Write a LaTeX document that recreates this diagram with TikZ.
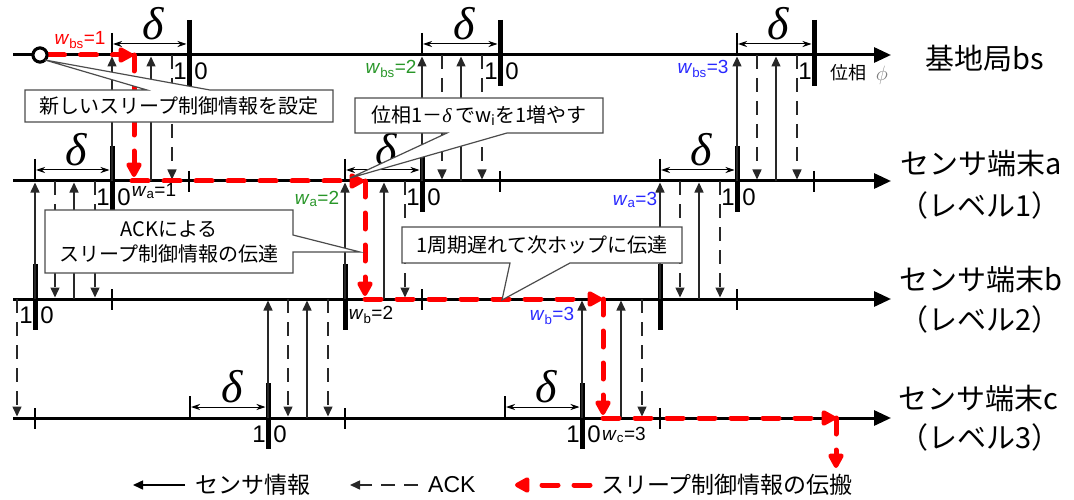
\documentclass[tikz,border=0pt]{standalone}
\usepackage{fontspec}
\setmainfont{Liberation Sans}
\newfontfamily\jp{Noto Sans CJK JP}
\newfontfamily\grk{Liberation Serif}
\usetikzlibrary{arrows.meta}
\definecolor{wgreen}{RGB}{40,150,40}
\definecolor{wblue}{RGB}{40,40,255}
\definecolor{linegray}{RGB}{40,40,40}
\begin{document}
\begin{tikzpicture}[x=1pt,y=-1pt,
  axis/.style={line width=3pt,-{Triangle[length=17pt,width=15pt]}},
  bar/.style={line width=5pt},
  stick/.style={line width=2.5pt},
  ttick/.style={line width=2pt},
  sens/.style={line width=1.5pt,draw=linegray,-{Triangle[length=10pt,width=9pt]}},
  ackl/.style={line width=1.5pt,draw=linegray,dash pattern=on 14pt off 9pt,-{Triangle[length=10pt,width=9pt]}},
  dim/.style={line width=1pt,{Stealth[length=9pt,width=6pt]}-{Stealth[length=9pt,width=6pt]}},
  redp/.style={draw=red,line width=5pt,dash pattern=on 16pt off 16pt,line cap=round,-{Triangle[length=17pt,width=17pt,fill=red,round]}},
  callout/.style={fill=white,draw=black!70,line width=1.2pt},
  ctext/.style={font=\jp\fontsize{20}{25}\selectfont,align=center,inner sep=0pt},
  num/.style={font=\fontsize{24}{24}\selectfont,inner sep=0pt},
  wl/.style={font=\fontsize{19}{19}\selectfont,inner sep=0pt},
  dl/.style={font=\grk\itshape\fontsize{46}{46}\selectfont,inner sep=0pt},
  rl/.style={font=\jp\fontsize{29}{32}\selectfont,inner sep=0pt},
  lg/.style={font=\jp\fontsize{23}{26}\selectfont,inner sep=0pt,anchor=west}]
\useasboundingbox (0,0) rectangle (1074,500);

% axes
\foreach \n/\y in {bs/55,a/181,b/299,c/418}{
  \coordinate (L\n) at (13,\y);
  \coordinate (R\n) at (891,\y);
  \draw[axis] (L\n) -- (R\n);
}

% thick period bars
\foreach \x/\y in {189/55,500/55,814/55,112/181,422/181,737/181,35/299,345/299,660/299,268/418,582/418}
  \draw[bar] (\x,\y-35) -- (\x,\y+31);

% short crossing ticks (parent boundaries)
\foreach \x/\y in {189/181,500/181,814/181,112/299,422/299,737/299,35/418,345/418,660/418}
  \draw[stick] (\x,\y-10) -- (\x,\y+11);

% delta windows
\foreach \s/\e/\y [count=\k] in {112/189/55,422/500/55,737/814/55,35/112/181,345/422/181,660/737/181,190/268/418,505/582/418}{
  \draw[ttick] (\s,\y-22) -- (\s,\y);
  \draw[dim] (\s+1,\y-11) -- (\e-2.5,\y-11);
  \node[dl] (d\k) at ({(\s+\e)/2+3},\y-31) {δ};
}

% sensor info (up) and ACK (down dashed)
\foreach \s/\P/\C/\skp in {112/55/181/1,422/55/181/0,737/55/181/0,35/181/299/0,345/181/299/1,660/181/299/0,268/299/418/0,582/299/418/1}{
  \draw[sens] (\s,\C) -- (\s,\P+1.5);
  \draw[sens] (\s+39,\C) -- (\s+39,\P+1.5);
  \ifnum\skp=0 \draw[ackl] (\s+20,\P) -- (\s+20,\C-1.5);\fi
  \draw[ackl] (\s+60,\P) -- (\s+60,\C-1.5);
}
\draw[ackl] (17,299) -- (17,416.5);

% sleep-control propagation path
\node[circle,draw,line width=3pt,fill=white,minimum size=14pt,inner sep=0pt] (org) at (40,55) {};
\draw[redp] (org.east) -- (133,55);
\draw[redp] (134,55) -- (134,177);
\draw[redp] (132,181) -- (364,181);
\draw[redp] (365,181) -- (365,296);
\draw[redp] (365,299) -- (602,299);
\draw[redp] (603,299) -- (603,415);
\draw[redp] (603,418) -- (836,418);
\draw[redp] (836,418) -- (836,468);
\node[circle,draw,line width=3pt,fill=white,minimum size=14pt,inner sep=0pt] (org2) at (40,55) {};

% callouts
\draw[callout] (25,90) -- (147,90) -- (45,60) -- (210,90) -- (333,90) -- (333,122) -- (25,122) -- cycle;
\node[ctext] (c1) at (179,106) {新しいスリープ制御情報を設定};
\draw[callout] (355,98) -- (603,98) -- (603,133) -- (507,133) -- (350,178) -- (447,133) -- (355,133) -- cycle;
\node[ctext] (c2) at (479,115.5) {位相1－{\grk\itshape δ}\,でw\textsubscript{i}を1増やす};
\draw[callout] (45,210) -- (293,210) -- (293,235) -- (360,252) -- (293,252) -- (293,273) -- (45,273) -- cycle;
\node[ctext] (c3) at (169,241.5) {ACKによる\\スリープ制御情報の伝達};
\draw[callout] (402,227) -- (682,227) -- (682,263) -- (570,263) -- (502,300) -- (510,263) -- (402,263) -- cycle;
\node[ctext] (c4) at (542,245) {1周期遅れて次ホップに伝達};

% 1 | 0 labels
\foreach \x/\y [count=\k] in {189/55,500/55,112/181,422/181,737/181,35/299,268/418,582/418}{
  \node[num] (one\k) at (\x-9,\y+16) {1};
  \node[num] (zero\k) at (\x+12,\y+16) {0};
}
\node[num] (onelast) at (805,71) {1};
\node[font=\jp\fontsize{18}{18}\selectfont,inner sep=0pt] (phase) at (848,73) {位相};
\node[inner sep=0pt,text=gray,font=\fontsize{22}{22}\selectfont] (phi) at (882,75) {$\phi$};

% w labels
\node[wl,text=red] (wbs1) at (80,40) {\textit{w}\textsubscript{bs}=1};
\node[wl,text=wgreen] (wbs2) at (391,69) {\textit{w}\textsubscript{bs}=2};
\node[wl,text=wblue] (wbs3) at (703,69) {\textit{w}\textsubscript{bs}=3};
\node[wl] (wa1) at (154,191) {\textit{w}\textsubscript{a}=1};
\node[wl,text=wgreen] (wa2) at (317,199) {\textit{w}\textsubscript{a}=2};
\node[wl,text=wblue] (wa3) at (635,200) {\textit{w}\textsubscript{a}=3};
\node[wl] (wb2) at (371,315) {\textit{w}\textsubscript{b}=2};
\node[wl,text=wblue] (wb3) at (552,316) {\textit{w}\textsubscript{b}=3};
\node[wl] (wc3) at (624,435) {\textit{w}\textsubscript{c}=3};

% right labels
\node[rl] (nbs) at (985,58) {基地局bs};
\node[rl] (na) at (981,163) {センサ端末a};
\node[rl] (la) at (980,205) {（レベル1）};
\node[rl] (nb) at (981,279) {センサ端末b};
\node[rl] (lb) at (980,319) {（レベル2）};
\node[rl] (nc) at (978,398) {センサ端末c};
\node[rl] (lc) at (980,437) {（レベル3）};

% legend
\coordinate (g1a) at (185,485); \coordinate (g1b) at (133,485);
\draw[line width=1.5pt,-{Triangle[length=10pt,width=9pt]}] (g1a) -- (g1b);
\node[lg] (lg1) at (195,485) {センサ情報};
\coordinate (g2a) at (418,485); \coordinate (g2b) at (350,485);
\draw[ackl] (g2a) -- (g2b);
\node[lg,font=\fontsize{23}{26}\selectfont] (lg2) at (428,485) {ACK};
\coordinate (g3a) at (590,485); \coordinate (g3b) at (515,485);
\draw[redp] (g3a) -- (g3b);
\node[lg] (lg3) at (601,485) {スリープ制御情報の伝搬};
\end{tikzpicture}
\end{document}
